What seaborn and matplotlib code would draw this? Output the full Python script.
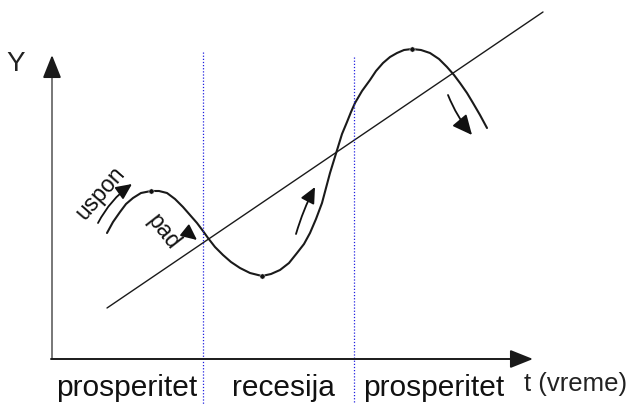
import matplotlib
matplotlib.use("Agg")
import matplotlib.pyplot as plt
import seaborn as sns
import pandas as pd

# chart units = positions (y grows downward)
cycle_t = [107, 113, 120, 126, 133, 141, 151, 159, 167, 175, 183, 190, 197, 203,
           208, 215, 223, 231, 240, 250, 262, 271, 280, 289, 297, 304, 310, 316,
           322, 326, 330, 334, 338, 342, 347, 351, 355, 362, 370, 376, 383, 390,
           397, 404, 412, 421, 430, 439, 447, 454, 460, 467, 473, 480, 487]
cycle_y = [233, 222, 212, 204, 198, 193, 191, 191, 193, 199, 207, 215, 223, 231,
           238, 247, 255, 262, 268, 273, 276, 274, 270, 263, 253, 244, 233, 219,
           203, 188, 173, 160, 147, 134, 122, 112, 103, 91, 80, 71, 63, 57,
           53, 50, 49, 50, 53, 59, 67, 75, 83, 93, 103, 115, 128]
turning_t = [151, 262, 412]
turning_y = [191, 276, 49]
trend_t = [107, 543]
trend_y = [308, 12]
phase_bounds = [203, 354]
phase_labels = ["prosperitet", "recesija", "prosperitet"]
phase_pos = [127, 283, 434]

sns.set_style("white")
plt.rcParams['font.family'] = ['Liberation Sans', 'DejaVu Sans']

fig = plt.figure(figsize=(6.39, 4.04), dpi=100)
ax = fig.add_axes([0, 0, 1, 1])
ax.set_xlim(0, 639)
ax.set_ylim(404, 0)
ax.axis('off')

cycle = pd.DataFrame({'t': cycle_t, 'y': cycle_y})
sns.lineplot(data=cycle, x='t', y='y', sort=False, color='#1a1a1a', lw=1.5, ax=ax)
sns.lineplot(x=trend_t, y=trend_y, sort=False, color='#1a1a1a', lw=1.0, ax=ax)
sns.scatterplot(x=turning_t, y=turning_y, color='#111111', s=14, ax=ax, zorder=5)

for xb, top in zip(phase_bounds, [52, 57]):
    ax.plot([xb, xb], [top, 404], ls=(0, (1, 1.5)), color='#2020e0', lw=0.9)

# axes with arrows (y axis line is grey, heads are black)
head = dict(arrowstyle='-|>,head_length=0.7,head_width=0.28', mutation_scale=20,
            color='#1a1a1a', lw=1.4, shrinkA=0, shrinkB=0)
ax.plot([52, 52], [359, 70], color='#777777', lw=1.4, solid_capstyle='butt')
ax.annotate('', xy=(52, 55), xytext=(52, 76), arrowprops=head)
ax.annotate('', xy=(533, 359), xytext=(51, 359), arrowprops=head)

small = dict(arrowstyle='-|>,head_length=0.6,head_width=0.28', mutation_scale=16,
             color='#111111', lw=1.3, shrinkA=0, shrinkB=0)
ax.annotate('', xy=(132, 184), xytext=(98, 223),
            arrowprops=dict(small, connectionstyle='arc3,rad=-0.12'))
ax.annotate('', xy=(197, 240), xytext=(187, 232), arrowprops=small)
ax.annotate('', xy=(315, 187), xytext=(296, 234),
            arrowprops=dict(small, connectionstyle='arc3,rad=-0.05'))
ax.annotate('', xy=(472, 135), xytext=(448, 95),
            arrowprops=dict(small, mutation_scale=20, connectionstyle='arc3,rad=0.08'))

ax.text(16, 64, 'Y', fontsize=20, ha='center', va='center', color='#222222')
ax.text(100, 193, 'uspon', fontsize=16.5, rotation=49, ha='center', va='center',
        rotation_mode='anchor', color='#111111')
ax.text(163, 232, 'pad', fontsize=16.5, rotation=-52, ha='center', va='center',
        rotation_mode='anchor', color='#111111')

for lab, xp in zip(phase_labels, phase_pos):
    ax.text(xp, 396, lab, fontsize=21.5, ha='center', va='baseline', color='#111111')
ax.text(576, 391, 't (vreme)', fontsize=18.5, ha='center', va='baseline', color='#222222')

fig.savefig('out.png', dpi=100)
